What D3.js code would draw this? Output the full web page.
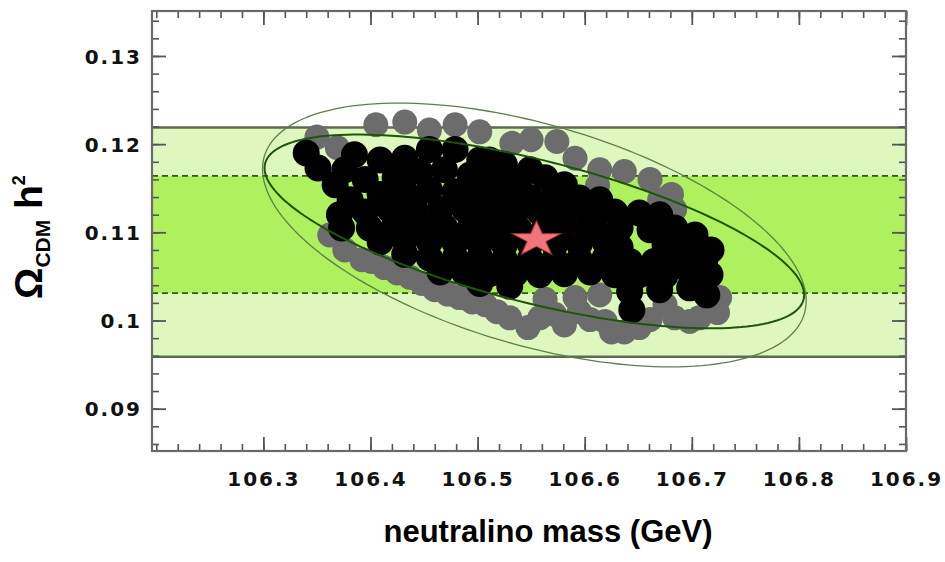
<!DOCTYPE html>
<html>
<head>
<meta charset="utf-8">
<script src="https://cdn.jsdelivr.net/npm/d3@7"></script>
<style>
  body { margin: 0; background: #fff; }
  svg text { font-family: "Liberation Sans", Arial, sans-serif; }
  .tick-label { font-family: "DejaVu Sans", sans-serif !important; font-weight: bold; font-size: 20px; letter-spacing: 2px; fill: #111; }
</style>
</head>
<body>
<script>
'use strict';

// scan points (neutralino mass in GeV, Omega h^2)
const grayMass = [106.350, 106.369, 106.405, 106.432, 106.455, 106.479, 106.502, 106.532, 106.550, 106.574,
  106.591, 106.614, 106.637, 106.661, 106.681, 106.684, 106.612, 106.362, 106.376, 106.392,
  106.413, 106.437, 106.460, 106.483, 106.507, 106.530, 106.547, 106.563, 106.572, 106.591,
  106.595, 106.614, 106.619, 106.637, 106.661, 106.675, 106.684, 106.707, 106.724, 106.726,
  106.401, 106.425, 106.448, 106.472, 106.495, 106.518, 106.558, 106.581, 106.605, 106.625,
  106.651, 106.698, 106.670];
const grayOmega = [0.1208, 0.1196, 0.1222, 0.1225, 0.1216, 0.1222, 0.1214, 0.1201, 0.1205, 0.1203,
  0.1184, 0.1171, 0.1169, 0.1160, 0.1143, 0.1126, 0.1153, 0.1097, 0.1080, 0.1069,
  0.1060, 0.1049, 0.1035, 0.1026, 0.1018, 0.1003, 0.0992, 0.1024, 0.1007, 0.1026,
  0.1010, 0.1029, 0.0999, 0.0987, 0.1001, 0.1018, 0.1003, 0.1003, 0.1009, 0.1026,
  0.1067, 0.1054, 0.1042, 0.1030, 0.1021, 0.1010, 0.1003, 0.0995, 0.1001, 0.0987,
  0.0992, 0.0999, 0.1137];

const blackMass = [106.340, 106.385, 106.455, 106.479, 106.511, 106.351, 106.376, 106.409, 106.432, 106.502,
  106.525, 106.549, 106.367, 106.395, 106.423, 106.446, 106.469, 106.493, 106.516, 106.539,
  106.563, 106.581, 106.381, 106.409, 106.432, 106.455, 106.479, 106.502, 106.525, 106.549,
  106.572, 106.595, 106.614, 106.371, 106.395, 106.418, 106.441, 106.465, 106.488, 106.511,
  106.535, 106.558, 106.581, 106.605, 106.628, 106.651, 106.670, 106.373, 106.399, 106.423,
  106.446, 106.469, 106.493, 106.516, 106.539, 106.563, 106.586, 106.609, 106.633, 106.661,
  106.684, 106.703, 106.409, 106.432, 106.455, 106.479, 106.502, 106.525, 106.549, 106.572,
  106.595, 106.619, 106.633, 106.675, 106.698, 106.718, 106.432, 106.455, 106.479, 106.502,
  106.525, 106.549, 106.572, 106.595, 106.619, 106.642, 106.665, 106.689, 106.712, 106.465,
  106.488, 106.511, 106.535, 106.558, 106.581, 106.605, 106.628, 106.651, 106.675, 106.698,
  106.717, 106.502, 106.530, 106.642, 106.670, 106.698, 106.714, 106.644];
const blackOmega = [0.1190, 0.1188, 0.1194, 0.1194, 0.1182, 0.1173, 0.1171, 0.1182, 0.1184, 0.1182,
  0.1177, 0.1171, 0.1154, 0.1160, 0.1162, 0.1169, 0.1171, 0.1165, 0.1160, 0.1157,
  0.1162, 0.1154, 0.1137, 0.1143, 0.1146, 0.1148, 0.1146, 0.1143, 0.1139, 0.1139,
  0.1143, 0.1139, 0.1137, 0.1120, 0.1123, 0.1126, 0.1128, 0.1126, 0.1126, 0.1123,
  0.1121, 0.1123, 0.1122, 0.1120, 0.1123, 0.1122, 0.1120, 0.1105, 0.1105, 0.1109,
  0.1109, 0.1106, 0.1105, 0.1105, 0.1103, 0.1105, 0.1103, 0.1105, 0.1105, 0.1103,
  0.1105, 0.1097, 0.1089, 0.1092, 0.1089, 0.1088, 0.1087, 0.1086, 0.1087, 0.1086,
  0.1087, 0.1089, 0.1083, 0.1086, 0.1083, 0.1080, 0.1075, 0.1071, 0.1071, 0.1071,
  0.1069, 0.1069, 0.1069, 0.1069, 0.1071, 0.1067, 0.1067, 0.1069, 0.1067, 0.1055,
  0.1054, 0.1053, 0.1053, 0.1052, 0.1053, 0.1055, 0.1052, 0.1052, 0.1051, 0.1055,
  0.1052, 0.1042, 0.1039, 0.1033, 0.1035, 0.1037, 0.1029, 0.1012];

// best fit point
const starMass = [106.555];
const starOmega = [0.1092];

// WMAP bands: 2 sigma (solid edges) and 1 sigma (dashed edges)
const band2 = [0.0959, 0.1219];
const band1 = [0.1031, 0.1164];

// contour ellipses: [outer, inner]
const ellMass = [106.553, 106.553];
const ellOmega = [0.1097, 0.1101];
const ellHalfMass = [0.2538, 0.2519];
const ellHalfOmega = [0.01496, 0.01099];
const ellRho = [-0.5, -0.654];

// axes
const xDomain = [106.196, 106.9];
const yDomain = [0.0852, 0.1351];
const xTicks = [106.3, 106.4, 106.5, 106.6, 106.7, 106.8, 106.9];
const xTickLabels = ['106.3', '106.4', '106.5', '106.6', '106.7', '106.8', '106.9'];
const yTicks = [0.09, 0.1, 0.11, 0.12, 0.13];
const yTickLabels = ['0.09', '0.1', '0.11', '0.12', '0.13'];

(function () {

  let svg = "";
  let x = null;
  let y = null;
  const frame = { left: 152, right: 906, top: 11, bottom: 451 };

  window.onload = function () {
    svg = d3.select('body')
      .append('svg')
      .attr('width', 945)
      .attr('height', 562);

    x = d3.scaleLinear().domain(xDomain).range([frame.left, frame.right]);
    y = d3.scaleLinear().domain(yDomain).range([frame.bottom, frame.top]);

    makeBands();
    plotPoints(grayMass, grayOmega, '#6c6c6c', 12.5);
    plotPoints(blackMass, blackOmega, '#000', 13.5);
    drawEllipses();
    drawStar();
    drawAxes();
    makeLabels();
  }

  // green WMAP bands with their edge lines
  function makeBands() {
    let w = frame.right - frame.left;

    svg.append('rect')
      .attr('x', frame.left)
      .attr('y', y(band2[1]))
      .attr('width', w)
      .attr('height', y(band2[0]) - y(band2[1]))
      .attr('fill', '#def7bf');

    svg.append('rect')
      .attr('x', frame.left)
      .attr('y', y(band1[1]))
      .attr('width', w)
      .attr('height', y(band1[0]) - y(band1[1]))
      .attr('fill', '#aef05e');

    svg.selectAll('.solid')
      .data(band2)
      .enter()
      .append('line')
      .attr('x1', frame.left)
      .attr('x2', frame.right)
      .attr('y1', d => y(d))
      .attr('y2', d => y(d))
      .attr('stroke', '#5d6b4f')
      .attr('stroke-width', 2.5);

    svg.selectAll('.dashed')
      .data(band1)
      .enter()
      .append('line')
      .attr('x1', frame.left)
      .attr('x2', frame.right)
      .attr('y1', d => y(d))
      .attr('y2', d => y(d))
      .attr('stroke', '#2b5c14')
      .attr('stroke-width', 1.8)
      .attr('stroke-dasharray', '6,4');
  }

  function plotPoints(mass, omega, color, r) {
    svg.append('g')
      .selectAll('circle')
      .data(mass)
      .enter()
      .append('circle')
      .attr('cx', d => x(d))
      .attr('cy', (d, i) => y(omega[i]))
      .attr('r', r)
      .attr('fill', color);
  }

  // correlated contours, outer thin one and inner dark one
  function drawEllipses() {
    let line = d3.line()
      .x(d => x(d[0]))
      .y(d => y(d[1]))
      .curve(d3.curveLinearClosed);

    let styles = [
      { stroke: '#5f7f4a', width: 1.3 },
      { stroke: '#1d560b', width: 2 }
    ];

    ellMass.forEach((cm, k) => {
      let rho = ellRho[k];
      let pts = d3.range(0, 360, 2).map((deg) => {
        let t = deg * Math.PI / 180;
        return [
          cm + ellHalfMass[k] * Math.cos(t),
          ellOmega[k] + ellHalfOmega[k] * (rho * Math.cos(t) + Math.sqrt(1 - rho * rho) * Math.sin(t))
        ];
      });
      svg.append('path')
        .datum(pts)
        .attr('d', line)
        .attr('fill', 'none')
        .attr('stroke', styles[k].stroke)
        .attr('stroke-width', styles[k].width);
    });
  }

  function drawStar() {
    let star = d3.symbol().type(d3.symbolStar).size(760);
    svg.selectAll('.star')
      .data(starMass)
      .enter()
      .append('path')
      .attr('d', star)
      .attr('transform', (d, i) => 'translate(' + x(d) + ',' + y(starOmega[i]) + ') scale(1,0.72)')
      .attr('fill', '#f2747e')
      .attr('stroke', '#a8262f')
      .attr('stroke-opacity', 0.6)
      .attr('stroke-width', 1.5);
  }

  // frame with inward ticks on all four sides
  function drawAxes() {
    let xMinor = d3.range(0, 36).map(i => 106.2 + i * 0.02);
    let yMinor = d3.range(0, 25).map(i => 0.086 + i * 0.002);
    let tickColor = '#555';

    let sides = [
      { axis: d3.axisBottom(x), pos: 'translate(0,' + frame.bottom + ')', minor: xMinor, major: xTicks },
      { axis: d3.axisTop(x), pos: 'translate(0,' + frame.top + ')', minor: xMinor, major: xTicks },
      { axis: d3.axisLeft(y), pos: 'translate(' + frame.left + ',0)', minor: yMinor, major: yTicks },
      { axis: d3.axisRight(y), pos: 'translate(' + frame.right + ',0)', minor: yMinor, major: yTicks }
    ];

    sides.forEach((s) => {
      let gMinor = svg.append('g')
        .attr('transform', s.pos)
        .call(s.axis.tickValues(s.minor).tickSize(-7).tickFormat(''));
      gMinor.select('.domain').remove();
      gMinor.selectAll('line').attr('stroke', tickColor).attr('stroke-width', 1.6);

      let gMajor = svg.append('g')
        .attr('transform', s.pos)
        .call(s.axis.tickValues(s.major).tickSize(-14).tickFormat(''));
      gMajor.select('.domain').remove();
      gMajor.selectAll('line').attr('stroke', tickColor).attr('stroke-width', 1.8);
    });

    svg.append('rect')
      .attr('x', frame.left)
      .attr('y', frame.top)
      .attr('width', frame.right - frame.left)
      .attr('height', frame.bottom - frame.top)
      .attr('fill', 'none')
      .attr('stroke', '#6a6a6a')
      .attr('stroke-width', 2.2);

    // tick labels
    let xLab = svg.append('g')
      .attr('transform', 'translate(0,' + frame.bottom + ')')
      .call(d3.axisBottom(x).tickValues(xTicks).tickSize(0)
        .tickFormat((d, i) => xTickLabels[i]));
    xLab.select('.domain').remove();
    xLab.selectAll('text')
      .attr('class', 'tick-label')
      .attr('y', 35)
      .attr('dy', 0)
      .attr('font-size', null)
      .attr('font-family', null);

    let yLab = svg.append('g')
      .attr('transform', 'translate(' + frame.left + ',0)')
      .call(d3.axisLeft(y).tickValues(yTicks).tickSize(0)
        .tickFormat((d, i) => yTickLabels[i]));
    yLab.select('.domain').remove();
    yLab.selectAll('text')
      .attr('class', 'tick-label')
      .attr('x', -10)
      .attr('dy', '0.36em')
      .attr('font-size', null)
      .attr('font-family', null);
  }

  // axis titles
  function makeLabels() {
    svg.append('text')
      .attr('x', 548)
      .attr('y', 542)
      .attr('text-anchor', 'middle')
      .style('font-size', '31px')
      .style('font-weight', 'bold')
      .text('neutralino mass (GeV)');

    let t = svg.append('text')
      .attr('transform', 'translate(42, 237)rotate(-90)')
      .attr('text-anchor', 'middle')
      .style('font-size', '39px')
      .style('font-weight', 'bold');
    t.append('tspan').text('\u03A9');
    t.append('tspan').attr('dy', 8).style('font-size', '21px').text('CDM');
    t.append('tspan').attr('dy', -8).text(' h');
    t.append('tspan').attr('dy', -17).style('font-size', '18px').text('2');
  }

})();
</script>
</body>
</html>
